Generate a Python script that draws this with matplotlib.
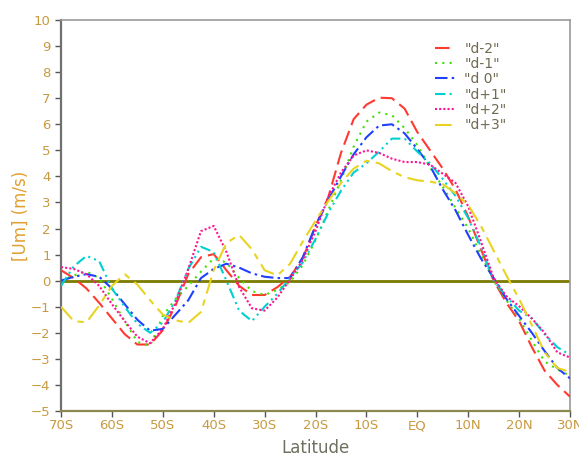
import matplotlib
matplotlib.use("Agg")
import matplotlib.pyplot as plt
import numpy as np

lat = np.arange(-70, 30.01, 2.5)

d_m2 = [0.4, 0.1, -0.3, -0.85, -1.45, -2.05, -2.45, -2.45, -1.9, -0.95,
        0.25, 0.9, 1.02, 0.4, -0.2, -0.55, -0.55, -0.25, 0.15, 0.85,
        2.1, 3.2, 4.9, 6.2, 6.75, 7.02, 7.0, 6.6, 5.7, 5.0,
        4.3, 3.5, 2.45, 1.2, 0.0, -0.85, -1.55, -2.55, -3.45, -4.0, -4.45]
d_m1 = [0.0, 0.2, 0.35, 0.1, -0.7, -1.55, -2.35, -2.5, -1.35, -0.7,
        -0.2, 0.35, 0.85, 0.7, 0.1, -0.4, -0.55, -0.35, -0.05, 0.6,
        1.55, 2.7, 3.85, 5.15, 6.1, 6.45, 6.35, 5.85, 5.2, 4.35,
        3.6, 2.8, 2.0, 1.0, 0.0, -0.75, -1.45, -2.3, -3.1, -3.4, -3.65]
d_0 = [0.0, 0.15, 0.25, 0.15, -0.3, -0.9, -1.5, -1.92, -1.85, -1.3,
       -0.75, 0.1, 0.45, 0.65, 0.5, 0.28, 0.15, 0.1, 0.1, 0.9,
       2.1, 3.1, 4.0, 4.85, 5.5, 5.95, 6.0, 5.65, 5.05, 4.4,
       3.5, 2.7, 1.75, 0.85, 0.1, -0.7, -1.35, -2.0, -2.7, -3.35, -3.75]
d_p1 = [-0.2, 0.55, 0.95, 0.75, -0.3, -1.0, -1.65, -2.0, -1.6, -0.75,
        0.45, 1.3, 1.1, 0.0, -1.15, -1.55, -1.0, -0.5, 0.1, 0.7,
        1.6, 2.6, 3.45, 4.15, 4.5, 4.95, 5.45, 5.45, 4.95, 4.5,
        3.9, 3.25, 2.4, 1.3, 0.0, -0.6, -1.15, -1.45, -2.05, -2.55, -2.85]
d_p2 = [0.52, 0.45, 0.25, -0.2, -0.9, -1.55, -2.15, -2.4, -1.85, -0.85,
        0.45, 1.9, 2.1, 1.1, -0.25, -1.06, -1.15, -0.65, 0.05, 0.8,
        1.9, 3.2, 4.15, 4.8, 5.0, 4.9, 4.68, 4.55, 4.55, 4.45,
        4.1, 3.75, 2.85, 1.5, 0.1, -0.6, -0.98, -1.45, -2.0, -2.75, -2.95]
d_p3 = [-1.0, -1.55, -1.6, -0.95, -0.2, 0.25, -0.15, -0.75, -1.3, -1.52,
        -1.62, -1.2, 0.4, 1.45, 1.75, 1.2, 0.4, 0.2, 0.65, 1.5,
        2.3, 3.05, 3.75, 4.3, 4.6, 4.5, 4.2, 3.97, 3.85, 3.8,
        3.7, 3.35, 2.9, 2.1, 1.15, 0.2, -0.7, -1.7, -2.75, -3.35, -3.5]

labels = ['"d-2"', '"d-1"', '"d 0"', '"d+1"', '"d+2"', '"d+3"']
xtick_vals = [-70, -60, -50, -40, -30, -20, -10, 0, 10, 20, 30]
xtick_labels = ['70S', '60S', '50S', '40S', '30S', '20S', '10S', 'EQ', '10N', '20N', '30N']
ytick_vals = list(range(-5, 11))

series = [d_m2, d_m1, d_0, d_p1, d_p2, d_p3]
colors = ['#ff3a30', '#40e000', '#2040ff', '#00d0d0', '#ff1493', '#e8d420']
styles = [(0, (7, 3)), (0, (1, 2.5)), (0, (6, 2, 1.2, 2)),
          (0, (5, 2, 1, 2, 1, 2)), (0, (1, 1)), (0, (8, 3, 3, 3))]

fig = plt.figure(figsize=(5.79, 4.59), dpi=100)
ax = fig.add_axes([0.1054, 0.1046, 0.8791, 0.8518])

ax.axhline(0, color='#7a7a00', lw=2.0, zorder=1)
for vals, c, ls, lb in zip(series, colors, styles, labels):
    ax.plot(lat, vals, color=c, ls=ls, lw=1.5, label=lb, zorder=3)

ax.set_xlim(-70, 30)
ax.set_ylim(-5, 10)
ax.set_xticks(xtick_vals)
ax.set_xticklabels(xtick_labels)
ax.set_yticks(ytick_vals)

tick_col = '#c89a40'
ax.tick_params(axis='both', direction='out', length=4, width=1, colors='#555555',
               labelsize=9.5, labelcolor=tick_col)
ax.tick_params(axis='x', pad=2)

for s in ['left']:
    ax.spines[s].set_color('#707070')
    ax.spines[s].set_linewidth(1.6)
for s in ['top', 'right']:
    ax.spines[s].set_color('#9a9a9a')
    ax.spines[s].set_linewidth(1.2)
ax.spines['bottom'].set_color('#8a8a50')
ax.spines['bottom'].set_linewidth(1.6)

ax.set_xlabel('Latitude', fontsize=12, color='#707060', labelpad=5)
ax.set_ylabel('[Um] (m/s)', fontsize=12, color='#e0a030', labelpad=1)

leg = ax.legend(loc='upper left', bbox_to_anchor=(0.735, 0.945), frameon=False,
                fontsize=10, handlelength=1.4, handletextpad=0.7,
                labelspacing=0.1, borderaxespad=0, borderpad=0)
for t in leg.get_texts():
    t.set_color('#706a50')

fig.savefig('out.png', dpi=100)
